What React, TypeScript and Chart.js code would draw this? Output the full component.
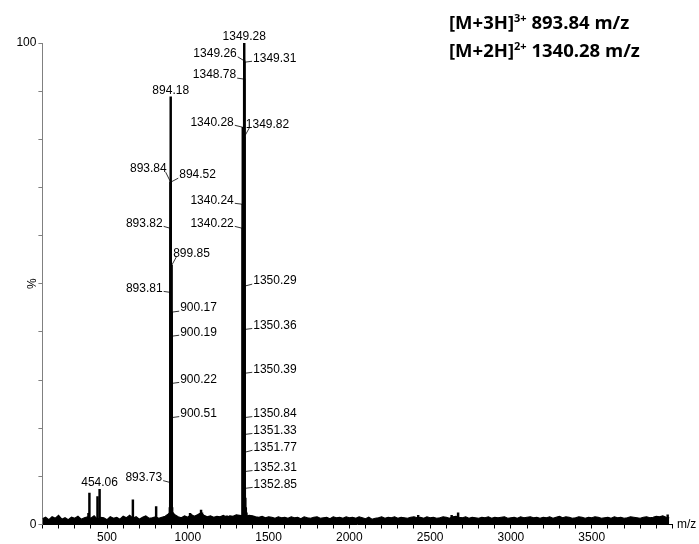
import React, { useEffect, useRef } from 'react';
import { Chart, registerables } from 'chart.js';

Chart.register(...registerables);

// ---- data: labelled / visible peaks (m/z, relative intensity %) ----
const peakMz = [
  385, 391, 441, 454.06, 660, 804,
  887, 889, 891, 893.73, 893.81, 893.82, 893.84, 894.18, 894.52, 897, 899.85, 900.17, 900.19, 900.22, 900.51, 903, 907, 911,
  1014, 1082, 1088, 1241,
  1340.22, 1340.24, 1340.28, 1344, 1346, 1348.78, 1349.26, 1349.28, 1349.31, 1349.82, 1350.29, 1350.36, 1350.39,
  1350.84, 1351.33, 1351.77, 1352.31, 1352.85, 1356, 1359, 1363, 1368,
  2426, 2633, 2673, 3970,
];
const peakIntensity = [
  2.3, 6.5, 5.8, 7.3, 5.1, 3.7,
  2.2, 3.5, 5.0, 8.7, 48.2, 61.5, 71.1, 88.8, 71.1, 5.5, 53.8, 44.1, 39.1, 29.3, 22.2, 3.5, 2.2, 1.8,
  2.3, 3.0, 2.4, 1.8,
  61.5, 66.5, 82.5, 3.5, 5.5, 92.5, 96.3, 100, 96.0, 80.5, 49.5, 40.5, 31.4,
  22.2, 18.7, 15.0, 11.0, 7.5, 5.5, 3.5, 2.4, 1.8,
  1.9, 1.9, 2.4, 2.0,
];

// ---- baseline noise, sampled every 20 m/z from 100 ----
const noiseStartMz = 100;
const noiseStepMz = 20;
const noiseIntensity = [
  1.2, 1.5, 1.0, 1.6, 1.3, 1.9, 1.1, 1.4, 1.0, 1.5, 1.3, 1.7, 1.1, 1.4, 1.6,
  1.3, 1.8, 1.1, 1.5, 1.4, 1.0, 1.6, 1.3, 1.5, 1.1, 1.7, 1.4, 1.9, 1.3, 1.6, 1.1, 1.5, 1.8, 1.3, 1.4,
  1.6, 1.3, 1.5, 1.7, 2.2, 2.8, 2.0, 1.6, 1.4, 1.8, 1.5, 2.1, 1.7, 2.0, 2.4, 1.9, 1.6, 1.8, 1.5, 1.7,
  1.6, 1.9, 1.5, 1.8, 1.7, 2.0, 1.9, 1.8, 1.7, 1.9, 1.8, 1.6, 1.5, 1.7, 1.4, 1.6, 1.5, 1.3, 1.6, 1.4,
  1.5, 1.3, 1.6, 1.4, 1.5, 1.2, 1.6, 1.4, 1.3, 1.5, 1.6, 1.3, 1.4, 1.5, 1.2, 1.6, 1.4, 1.5, 1.3, 1.6,
  1.4, 1.5, 1.3, 1.6, 1.4, 1.2, 1.5, 1.1, 1.3, 1.4, 1.6, 1.3, 1.5, 1.4, 1.6, 1.3, 1.5, 1.4, 1.3, 1.5,
  1.6, 1.4, 1.5, 1.3, 1.6, 1.4, 1.5, 1.3, 1.4, 1.6, 1.5, 1.3, 1.6, 1.7, 1.5, 1.4, 1.6, 1.3, 1.5, 1.4,
  1.3, 1.5, 1.4, 1.6, 1.3, 1.5, 1.4, 1.5, 1.6, 1.3, 1.4, 1.5, 1.3, 1.6, 1.4, 1.5, 1.6, 1.4, 1.5, 1.3,
  1.5, 1.4, 1.6, 1.3, 1.5, 1.7, 1.4, 1.6, 1.5, 1.3, 1.4, 1.6, 1.5, 1.3, 1.5, 1.4, 1.6, 1.5, 1.3, 1.4,
  1.5, 1.3, 1.6, 1.4, 1.5, 1.3, 1.4, 1.6, 1.5, 1.4, 1.3, 1.5, 1.6, 1.4, 1.5, 1.7, 1.6, 1.8, 1.5, 1.4,
];

// ---- peak annotations: m/z and the intensity the leader points at ----
const labelMz = [
  454.06, 894.18, 893.84, 894.52, 893.82, 899.85, 893.81, 900.17, 900.19, 900.22, 900.51, 893.73,
  1349.28, 1349.26, 1349.31, 1348.78, 1340.28, 1349.82, 1340.24, 1340.22, 1350.29, 1350.36, 1350.39,
  1350.84, 1351.33, 1351.77, 1352.31, 1352.85,
];
const labelIntensity = [
  7.3, 88.8, 71.1, 71.1, 61.5, 53.8, 48.2, 44.1, 39.1, 29.3, 22.2, 8.7,
  100, 96.3, 96.0, 92.5, 82.5, 80.5, 66.5, 61.5, 49.5, 40.5, 31.4,
  22.2, 18.7, 15.0, 11.0, 7.5,
];
// layout of the annotation texts (T = above, L = left, R = right)
const labelSide = [
  'T', 'T', 'L', 'R', 'L', 'R', 'L', 'R', 'R', 'R', 'R', 'L',
  'T', 'L', 'R', 'L', 'L', 'R', 'L', 'L', 'R', 'R', 'R',
  'R', 'R', 'R', 'R', 'R',
];
const labelDx = [
  0, 0, 4, 8.5, 8, 1.5, 8, 8.5, 8.5, 8.5, 8.5, 8.5,
  0, 7.5, 8.8, 8, 9, 1.5, 9, 9, 8.8, 8.8, 8.8,
  8.8, 8.8, 8.8, 8.8, 8.8,
];
const labelLift = [
  0, 0, 14, 8, 6, 13, 5, 5, 5, 5, 5, 6,
  0, 8, 5, 5, 6, 13, 5, 6, 6, 5, 5,
  5, 5, 6, 5, 5,
];

// ---- axes ----
const xLabelledTicks = [500, 1000, 1500, 2000, 2500, 3000, 3500];
const yLabelledTicks = [0, 100];
const xAxisTitle = 'm/z';
const yAxisTitle = '%';
const titleLines = [
  { ion: '[M+3H]', charge: '3+', value: '893.84 m/z' },
  { ion: '[M+2H]', charge: '2+', value: '1340.28 m/z' },
];

const FONT = '"Liberation Sans", Arial, sans-serif';

const annotationPlugin = {
  id: 'msAnnotations',
  afterDraw(chart: any) {
    const { ctx, chartArea } = chart;
    const xs = chart.scales.x;
    const ys = chart.scales.y;
    ctx.save();
    ctx.font = `12px ${FONT}`;
    ctx.fillStyle = '#000';
    ctx.strokeStyle = '#000';
    ctx.lineWidth = 0.8;
    labelMz.forEach((mz, i) => {
      const px = xs.getPixelForValue(mz);
      const py = ys.getPixelForValue(labelIntensity[i]);
      const txt = mz.toFixed(2);
      const side = labelSide[i];
      ctx.textBaseline = 'alphabetic';
      if (side === 'T') {
        ctx.textAlign = 'center';
        ctx.fillText(txt, px, py - 3);
        return;
      }
      const s = side === 'L' ? -1 : 1;
      const dx = labelDx[i];
      const ty = py - labelLift[i];
      ctx.beginPath();
      ctx.moveTo(px, py);
      ctx.lineTo(px + s * Math.max(dx - 1, 5), ty + 4);
      ctx.stroke();
      ctx.textAlign = s < 0 ? 'right' : 'left';
      ctx.fillText(txt, px + s * dx, ty + 4.3);
    });
    // axis titles
    ctx.textAlign = 'left';
    ctx.textBaseline = 'middle';
    ctx.fillText(xAxisTitle, chartArea.right + 4.5, chartArea.bottom);
    ctx.translate(chartArea.left - 9.5, (chartArea.top + chartArea.bottom) / 2);
    ctx.rotate(-Math.PI / 2);
    ctx.textAlign = 'center';
    ctx.fillText(yAxisTitle, 0, 0);
    ctx.restore();
  },
};

export default function App() {
  const ref = useRef<HTMLCanvasElement | null>(null);

  useEffect(() => {
    if (!ref.current) return;
    const chart = new Chart(ref.current, {
      type: 'bar',
      data: {
        datasets: [
          {
            type: 'bar',
            data: peakMz.map((x, i) => ({ x, y: peakIntensity[i] })),
            backgroundColor: '#000',
            barThickness: 1.8,
            order: 1,
          } as any,
          {
            type: 'line',
            data: noiseIntensity.map((y, i) => ({ x: noiseStartMz + i * noiseStepMz, y })),
            borderColor: '#000',
            backgroundColor: '#000',
            borderWidth: 1.2,
            pointRadius: 0,
            fill: 'origin',
            tension: 0,
            order: 2,
          } as any,
        ],
      },
      options: {
        animation: false,
        responsive: false,
        maintainAspectRatio: false,
        layout: { padding: { top: 43, right: 26.5, left: 0, bottom: 0 } },
        plugins: { legend: { display: false }, tooltip: { enabled: false } },
        scales: {
          x: {
            type: 'linear',
            min: 100,
            max: 4000,
            offset: false,
            ticks: {
              stepSize: 100,
              autoSkip: false,
              maxRotation: 0,
              padding: 2,
              color: '#000',
              font: { family: FONT, size: 12 },
              callback: (v: any) => (xLabelledTicks.includes(Number(v)) ? String(v) : ''),
            },
            grid: {
              display: true,
              offset: false,
              drawOnChartArea: false,
              drawTicks: true,
              tickLength: 4,
              color: '#000',
              lineWidth: 1,
            },
            border: { display: true, color: '#000', width: 1 },
            afterFit: (s: any) => {
              s.height = 19.5;
            },
          },
          y: {
            type: 'linear',
            min: 0,
            max: 100,
            ticks: {
              stepSize: 10,
              padding: 2,
              color: '#000',
              font: { family: FONT, size: 12 },
              callback: (v: any) => (yLabelledTicks.includes(Number(v)) ? String(v) : ''),
            },
            grid: {
              display: true,
              drawOnChartArea: false,
              drawTicks: true,
              tickLength: 4,
              color: '#808080',
              lineWidth: 1,
            },
            border: { display: true, color: '#808080', width: 1 },
            afterFit: (s: any) => {
              s.width = 42.4;
            },
          },
        },
      } as any,
      plugins: [annotationPlugin],
    });
    return () => chart.destroy();
  }, []);

  return (
    <div style={{ position: 'absolute', left: 0, top: 0, width: 699, height: 544, background: '#fff' }}>
      <canvas ref={ref} width={699} height={544} style={{ width: 699, height: 544, display: 'block' }} />
      <div
        style={{
          position: 'absolute',
          left: 449,
          top: 8.5,
          fontFamily: '"Open Sans", sans-serif',
          fontWeight: 700,
          fontSize: 18.5,
          lineHeight: '25.7px',
          color: '#000',
          whiteSpace: 'nowrap',
        }}
      >
        {titleLines.map((t) => (
          <div key={t.ion}>
            {t.ion}
            <span style={{ fontSize: 11, position: 'relative', top: -7 }}>{t.charge}</span> {t.value}
          </div>
        ))}
      </div>
    </div>
  );
}
